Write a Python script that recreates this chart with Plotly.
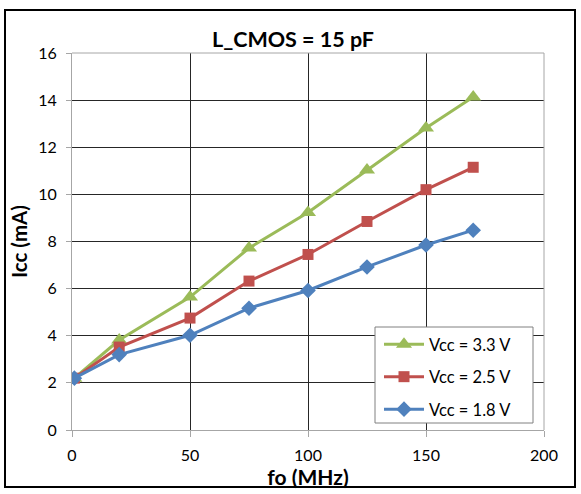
import plotly.graph_objects as go

fo = [1, 20, 50, 75, 100, 125, 150, 170]
icc_33 = [2.2, 3.82, 5.64, 7.72, 9.23, 11.03, 12.82, 14.13]
icc_25 = [2.2, 3.52, 4.75, 6.32, 7.45, 8.85, 10.2, 11.15]
icc_18 = [2.2, 3.2, 4.02, 5.17, 5.92, 6.92, 7.85, 8.48]
x_ticks = [0, 50, 100, 150, 200]
y_ticks = [0, 2, 4, 6, 8, 10, 12, 14, 16]

FONT = "Lato, Carlito, Liberation Sans, sans-serif"

fig = go.Figure()
series = [
    ("Vcc = 3.3 V", icc_33, "#9BBB59", "triangle-up", 14),
    ("Vcc = 2.5 V", icc_25, "#C0504D", "square", 11),
    ("Vcc = 1.8 V", icc_18, "#4F81BD", "diamond", 12),
]
for name, ys, col, sym, sz in series:
    fig.add_trace(go.Scatter(
        x=fo, y=ys, name=name, legendgroup=name, mode="lines+markers",
        line=dict(color=col, width=3),
        marker=dict(symbol=sym, size=sz, color=col),
    ))

L, R, T, B = 72, 37, 53, 64
W, H = 581, 494
pw, ph = W - L - R, H - T - B


def px(xp):
    return (xp - L) / pw


def py(yp):
    return (H - B - yp) / ph


fig.update_layout(
    width=W, height=H,
    margin=dict(l=L, r=R, t=T, b=B),
    paper_bgcolor="white", plot_bgcolor="white",
    font=dict(family=FONT, size=16, color="black"),
    title=dict(text="<b>L_CMOS = 15 pF</b>", x=293 / W, xanchor="center",
               y=1 - 39 / H, yanchor="middle", font=dict(size=21.5)),
    showlegend=True,
    legend=dict(x=px(379), y=py(327), xanchor="left", yanchor="top",
                borderwidth=0, bgcolor="rgba(0,0,0,0)",
                font=dict(size=16.5), itemwidth=40, tracegroupgap=8),
    xaxis=dict(range=[0, 200], tickvals=x_ticks, showgrid=True,
               gridcolor="#262626", gridwidth=1, zeroline=False,
               showline=True, linecolor="#A6A6A6", linewidth=1,
               ticks="outside", ticklen=6, tickcolor="#A6A6A6",
               ticklabelstandoff=5,
               title=dict(text="<b>fo (MHz)</b>", font=dict(size=21), standoff=0)),
    yaxis=dict(range=[0, 16], tickvals=y_ticks, showgrid=True,
               gridcolor="#262626", gridwidth=1, zeroline=False,
               showline=True, linecolor="#A6A6A6", linewidth=1,
               ticks="outside", ticklen=5, tickcolor="#A6A6A6",
               ticklabelstandoff=6,
               title=dict(text="<b>Icc (mA)</b>", font=dict(size=20.5), standoff=5)),
)

# legend box
fig.add_shape(type="rect", xref="paper", yref="paper",
              x0=px(375), x1=px(533), y0=py(423), y1=py(327),
              line=dict(color="#808080", width=1), fillcolor="white", layer="above")
# outer chart border
fig.add_shape(type="rect", xref="paper", yref="paper",
              x0=px(5), x1=px(575), y0=py(487), y1=py(10),
              line=dict(color="black", width=2), layer="above")
# lighter top/right edges of plot area
fig.add_shape(type="line", xref="paper", yref="paper", x0=0, x1=1, y0=1, y1=1,
              line=dict(color="#A6A6A6", width=1))
fig.add_shape(type="line", xref="paper", yref="paper", x0=1, x1=1, y0=0, y1=1,
              line=dict(color="#A6A6A6", width=1))

fig.write_html("out.html", config={"displayModeBar": False},
               post_script="document.body.style.margin='0px';")
